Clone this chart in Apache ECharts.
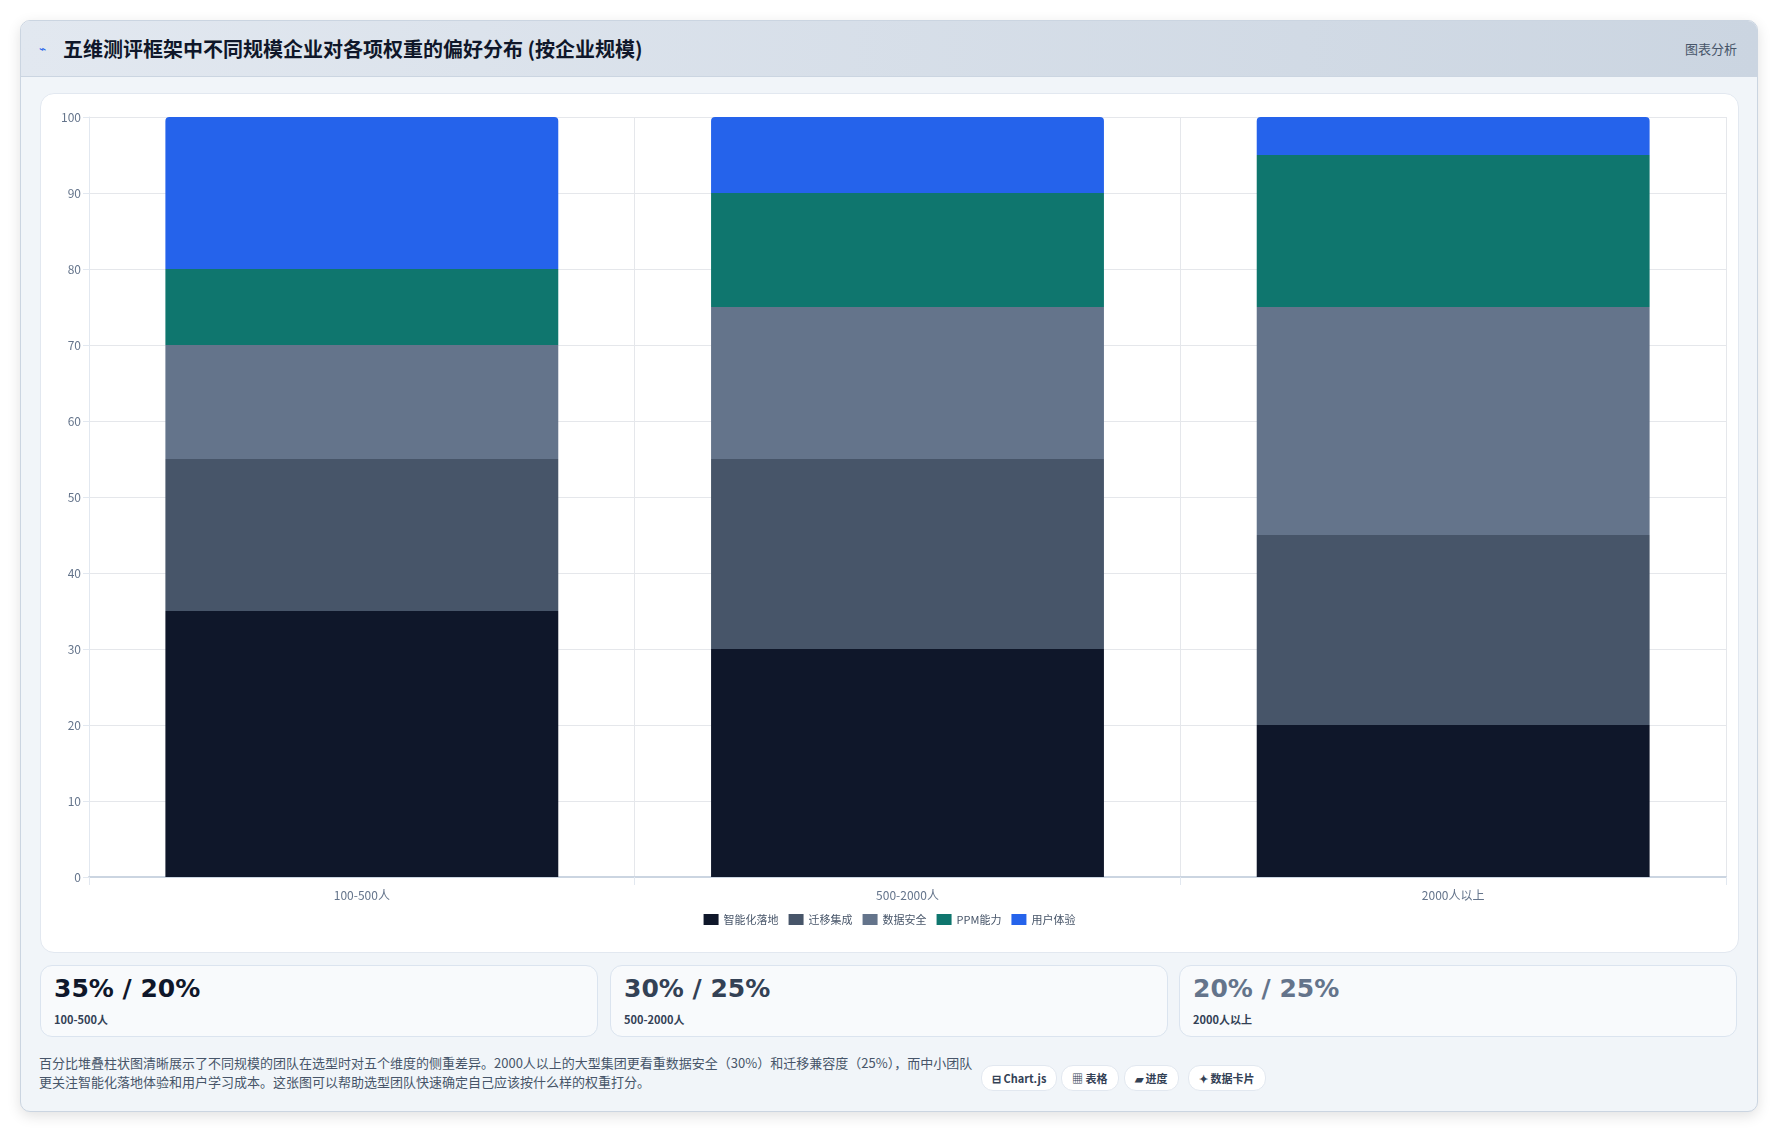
<!DOCTYPE html>
<html><head><meta charset="utf-8">
<script src="https://cdn.jsdelivr.net/npm/echarts@6/dist/echarts.min.js"></script>
<style>
body{margin:0;background:#fff;font-family:"Noto Sans CJK SC","Noto Sans",sans-serif;width:1777px;height:1132px;overflow:hidden}
.outer{position:absolute;left:20px;top:20px;width:1736px;height:1090px;border:1px solid #cbd5e1;border-radius:10px;background:#f1f5f9;box-shadow:0 4px 14px rgba(0,0,0,.12);overflow:hidden}
.head{height:55px;background:linear-gradient(90deg,#e2e8f0,#cbd5e1);border-bottom:1px solid #cbd5e1;position:relative}
.head h1{margin:0;position:absolute;left:42px;top:13px;font-size:20px;font-weight:700;color:#0f172a}
.head .ic{position:absolute;left:18px;top:18px;color:#2563eb;font-size:12px}
.head .r{position:absolute;right:20px;top:18px;font-size:13px;color:#475569}
.card{position:absolute;left:19px;top:72px;width:1697px;height:858px;background:#fff;border:1px solid #e2e8f0;border-radius:14px}
#chart{width:1697px;height:858px}
.stat{position:absolute;top:944px;width:556px;height:70px;background:#f8fafc;border:1px solid #dbe4ef;border-radius:12px}
.stat b{position:absolute;left:13px;top:8px;font-size:25px;font-weight:800;font-family:"DejaVu Sans",sans-serif}
.stat span{position:absolute;left:13px;top:45px;font-size:11px;font-weight:700;color:#334155}
.foot{position:absolute;left:18px;top:1032px;width:940px;font-size:13px;line-height:19px;color:#475569}
.pill{position:absolute;top:1044px;height:24px;line-height:24px;padding:0 10px;font-size:11px;font-weight:700;color:#334155;background:#fff;border:1px solid #e2e8f0;border-radius:12px}
</style></head><body>
<div class="outer">
 <div class="head"><span class="ic">⌁</span><h1>五维测评框架中不同规模企业对各项权重的偏好分布 (按企业规模)</h1><span class="r">图表分析</span></div>
 <div class="card"><div id="chart"></div></div>
 <div class="stat" style="left:19px"><b style="color:#0f172a">35% / 20%</b><span>100-500人</span></div>
 <div class="stat" style="left:589px"><b style="color:#334155">30% / 25%</b><span>500-2000人</span></div>
 <div class="stat" style="left:1158px"><b style="color:#64748b">20% / 25%</b><span>2000人以上</span></div>
 <div class="foot">百分比堆叠柱状图清晰展示了不同规模的团队在选型时对五个维度的侧重差异。2000人以上的大型集团更看重数据安全（30%）和迁移兼容度（25%），而中小团队更关注智能化落地体验和用户学习成本。这张图可以帮助选型团队快速确定自己应该按什么样的权重打分。</div>
 <div class="pill" style="left:960px">⊟ Chart.js</div>
 <div class="pill" style="left:1040px">▦ 表格</div>
 <div class="pill" style="left:1103px">▰ 进度</div>
 <div class="pill" style="left:1167px">✦ 数据卡片</div>
</div>
<script>
var categories = ['100-500人', '500-2000人', '2000人以上'];
var seriesNames = ['智能化落地', '迁移集成', '数据安全', 'PPM能力', '用户体验'];
var colors = ['#0f172a', '#475569', '#64748b', '#0f766e', '#2563eb'];
var aiData = [35, 30, 20];
var migrateData = [20, 25, 25];
var securityData = [15, 20, 30];
var ppmData = [10, 15, 20];
var uxData = [20, 10, 5];
var allData = [aiData, migrateData, securityData, ppmData, uxData];

var myChart = echarts.init(document.getElementById('chart'));
var series = seriesNames.map(function (n, i) {
    return {
        name: n, type: 'bar', stack: 'total', barWidth: '72%',
        itemStyle: {color: colors[i], borderRadius: i === 4 ? [4, 4, 0, 0] : 0},
        data: allData[i]
    };
});
myChart.setOption({
    animation: false,
    textStyle: {fontFamily: 'Noto Sans CJK SC'},
    grid: {left: 48, right: 12, top: 23, bottom: 75},
    legend: {
        bottom: 22, left: 'center', itemWidth: 15, itemHeight: 11, itemGap: 10, icon: 'rect',
        textStyle: {fontSize: 11, color: '#475569'}
    },
    xAxis: {
        type: 'category', data: categories,
        axisLine: {lineStyle: {color: '#cbd5e1', width: 2}},
        axisTick: {show: true, length: 8, lineStyle: {color: '#e2e8f0'}},
        splitLine: {show: true, lineStyle: {color: '#e5e7eb'}},
        axisLabel: {color: '#64748b', fontSize: 12, margin: 12}
    },
    yAxis: {
        type: 'value', min: 0, max: 100, interval: 10,
        axisLine: {show: true, lineStyle: {color: '#e2e8f0'}},
        axisTick: {show: true, length: 6, lineStyle: {color: '#e2e8f0'}},
        splitLine: {lineStyle: {color: '#e5e7eb'}},
        axisLabel: {color: '#64748b', fontSize: 12}
    },
    series: series
});
</script>
</body></html>
